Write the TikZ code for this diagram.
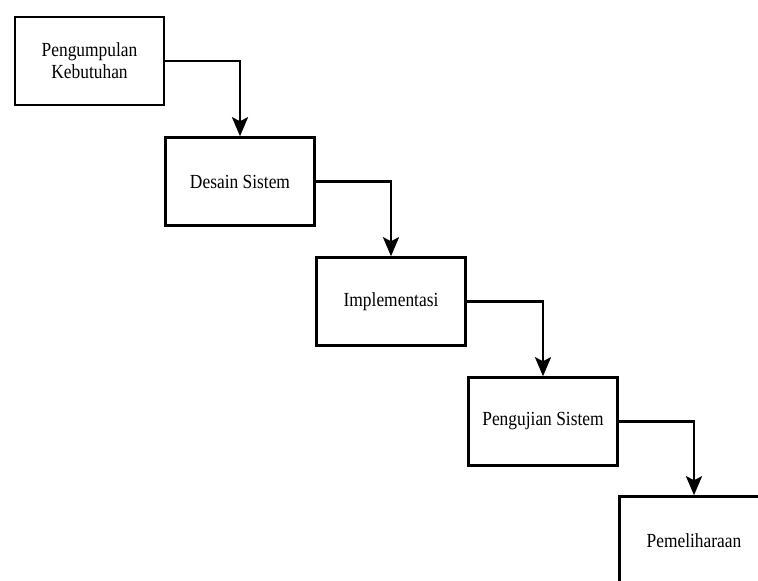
\documentclass[tikz,border=0pt]{standalone}
\usepackage{fontspec}
\usepackage{tikz}
\usetikzlibrary{arrows.meta,positioning}
\newfontfamily\tahapfont[FakeStretch=0.87]{Liberation Serif}

\begin{document}
\begin{tikzpicture}[x=1pt, y=-1pt,
  tahap/.style={rectangle, draw, line width=2.6pt, minimum width=149pt, minimum height=88pt, align=center, font=\tahapfont\fontsize{20}{22}\selectfont},
  alur/.style={-{Stealth[length=19pt, width=16pt, inset=4pt]}, line width=2.4pt}]
\clip (0,0) rectangle (758,581);
\node[tahap] (kebutuhan) at (89.5,61) {Pengumpulan\\Kebutuhan};
\node[tahap] (desain) at (240,181.5) {Desain Sistem};
\node[tahap] (implementasi) at (391,301.5) {Implementasi};
\node[tahap] (pengujian) at (543,421.5) {Pengujian Sistem};
\node[tahap] (pemeliharaan) at (694,540.5) {Pemeliharaan};

\draw[alur] (kebutuhan.east) -| (desain.north);
\draw[alur] (desain.east) -| (implementasi.north);
\draw[alur] (implementasi.east) -| (pengujian.north);
\draw[alur] (pengujian.east) -| (pemeliharaan.north);
\end{tikzpicture}
\end{document}
